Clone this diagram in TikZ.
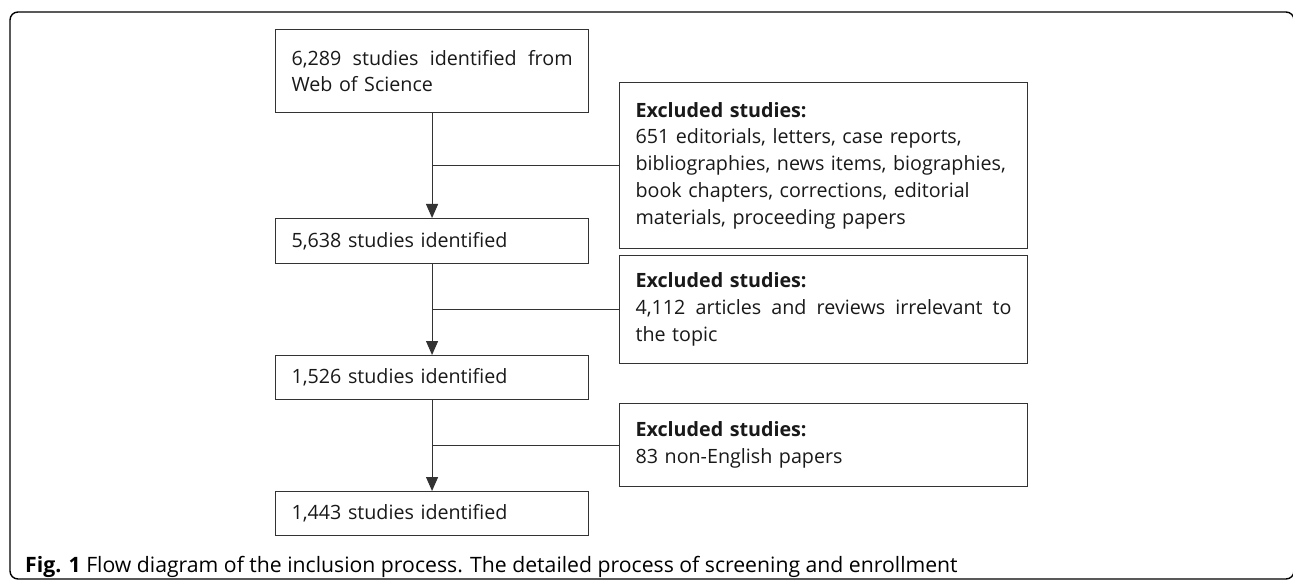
\documentclass[tikz,border=0pt]{standalone}
\usepackage{fontspec}
\setmainfont{Open Sans}
\usetikzlibrary{arrows.meta,positioning}

% a line spread over the whole box width
\newcommand{\fullline}[2]{\leavevmode\hbox to #1{\spaceskip=0.26em plus 1fil\relax #2}}

\tikzset{
  stagebox/.style={draw=black!80, line width=1.1pt, anchor=north west, align=left,
    text width=281pt, inner xsep=16pt, inner ysep=0pt, text=black!90,
    font=\fontsize{19.7}{26.7}\selectfont},
  exclbox/.style={stagebox, text width=376pt},
  flow/.style={draw=black!80, line width=1.1pt},
}

\begin{document}
\begin{tikzpicture}[x=1pt,y=-1pt]
  \useasboundingbox (0,0) rectangle (1293,580);
  \draw[line width=1.4pt, rounded corners=8pt] (10,12) rectangle (1294,579);

  \node[stagebox, minimum height=83pt] (src) at (275,29) {\fullline{281pt}{6,289 studies identified from}\\Web of Science};
  \node[stagebox, minimum height=45pt] (s5638) at (275,218) {5,638 studies identified};
  \node[stagebox, minimum height=44pt] (s1526) at (275,355) {1,526 studies identified};
  \node[stagebox, minimum height=44pt] (s1443) at (275,491) {1,443 studies identified};

  \node[exclbox, minimum height=166pt] (ex1) at (619,82) {\textbf{Excluded studies:}\\651 editorials, letters, case reports,\\bibliographies, news items, biographies,\\book chapters, corrections, editorial\\materials, proceeding papers};
  \node[exclbox, minimum height=108pt] (ex2) at (619,255) {\textbf{Excluded studies:}\\\fullline{376pt}{4,112 articles and reviews irrelevant to}\\the topic};
  \node[exclbox, minimum height=83pt] (ex3) at (619,403) {\textbf{Excluded studies:}\\83 non-English papers};

  \draw[flow, -{Triangle[width=12pt,length=14pt]}] (src) -- (s5638);
  \draw[flow, -{Triangle[width=12pt,length=14pt]}] (s5638) -- (s1526);
  \draw[flow, -{Triangle[width=12pt,length=14pt]}] (s1526) -- (s1443);
  \draw[flow] (ex1.west) -- (ex1.west -| src.south);
  \draw[flow] (ex2.west) -- (ex2.west -| src.south);
  \draw[flow] (ex3.west) -- (ex3.west -| src.south);

  \node[anchor=base west, inner sep=0pt, font=\fontsize{21.2}{25}\selectfont] (caption) at (25,572)
    {\textbf{Fig. 1} Flow diagram of the inclusion process. The detailed process of screening and enrollment};
\end{tikzpicture}
\end{document}
